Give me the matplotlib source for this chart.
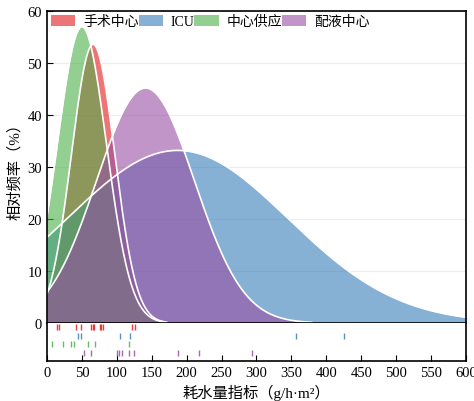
import numpy as np
import matplotlib
matplotlib.use('Agg')
import matplotlib.pyplot as plt
import matplotlib.patches as mpatches

plt.rcParams['font.family'] = ['Liberation Serif', 'Noto Sans CJK SC']

groups = ['手术中心', 'ICU', '中心供应', '配液中心']
colors = ['#e41a1c', '#377eb8', '#4daf4a', '#984ea3']

# fitted normal curves: centre, spread, peak height (%)
curve_mean = [66, 187, 50, 141]
curve_sd = [31, 158, 35, 70]
curve_peak = [53.6, 33.2, 57.0, 45.2]

# single observations in the rug strip (g/h·m²)
rug_surgery = [15, 17, 41, 48, 63, 65.5, 67.5, 75.5, 78, 80.5, 121, 126]
rug_icu = [44, 49, 105, 119, 356, 426]
rug_supply = [7.5, 23.5, 35, 38.5, 59, 68.5, 117.5]
rug_mixing = [53, 62.5, 100.5, 102.5, 107, 117.5, 124.5, 187, 218, 294]
rugs = [rug_surgery, rug_icu, rug_supply, rug_mixing]

fig = plt.figure(figsize=(4.74, 4.02), dpi=100)
ax = fig.add_axes([0.0992, 0.194, 0.8838, 0.776])
ax2 = fig.add_axes([0.0992, 0.0995, 0.8838, 0.0945], sharex=ax)

for m, s, p, c in zip(curve_mean, curve_sd, curve_peak, colors):
    x = np.linspace(max(0, m - 3.4 * s), min(600, m + 3.4 * s), 400)
    y = p * np.exp(-(x - m) ** 2 / (2 * s ** 2))
    ax.fill_between(x, 0, y, color=c, alpha=0.6, linewidth=0)
    ax.plot(x, y, color='white', linewidth=1.2)

ax.set_xlim(0, 600)
ax.set_ylim(0, 60)
ax.set_yticks(np.arange(0, 61, 10))
ax.grid(axis='y', color='#ececec', linewidth=0.8)
ax.set_axisbelow(True)
ax.tick_params(axis='y', direction='in', length=4, labelsize=10.5)
ax.tick_params(axis='x', bottom=False, labelbottom=False)
for sp in ax.spines.values():
    sp.set_linewidth(1.2)
ax.set_ylabel('相对频率（%）', fontsize=11)

patches = []
for c, g in zip(colors, groups):
    patches.append(mpatches.Patch(facecolor=c, edgecolor='none', alpha=0.6, label=g))
ax.legend(handles=patches, loc='upper left', ncol=4, frameon=False, fontsize=10,
          handlelength=1.75, handleheight=0.8, handletextpad=0.55, columnspacing=0.0,
          borderaxespad=0.1, borderpad=0.2, bbox_to_anchor=(0, 1.0))

for i, (vals, c) in enumerate(zip(rugs, colors)):
    ax2.plot(vals, [4 - i] * len(vals), '|', color=c, alpha=0.85, markersize=5, markeredgewidth=1)
ax2.set_ylim(0, 4.5)
ax2.set_yticks([])
ax2.set_xticks(np.arange(0, 601, 50))
ax2.tick_params(axis='x', direction='in', length=4, labelsize=10.5)
ax2.spines['top'].set_visible(False)
for sp in ax2.spines.values():
    sp.set_linewidth(1.2)
ax2.set_xlabel('耗水量指标（g/h·m²）', fontsize=11)

plt.savefig('out.png', dpi=100)
